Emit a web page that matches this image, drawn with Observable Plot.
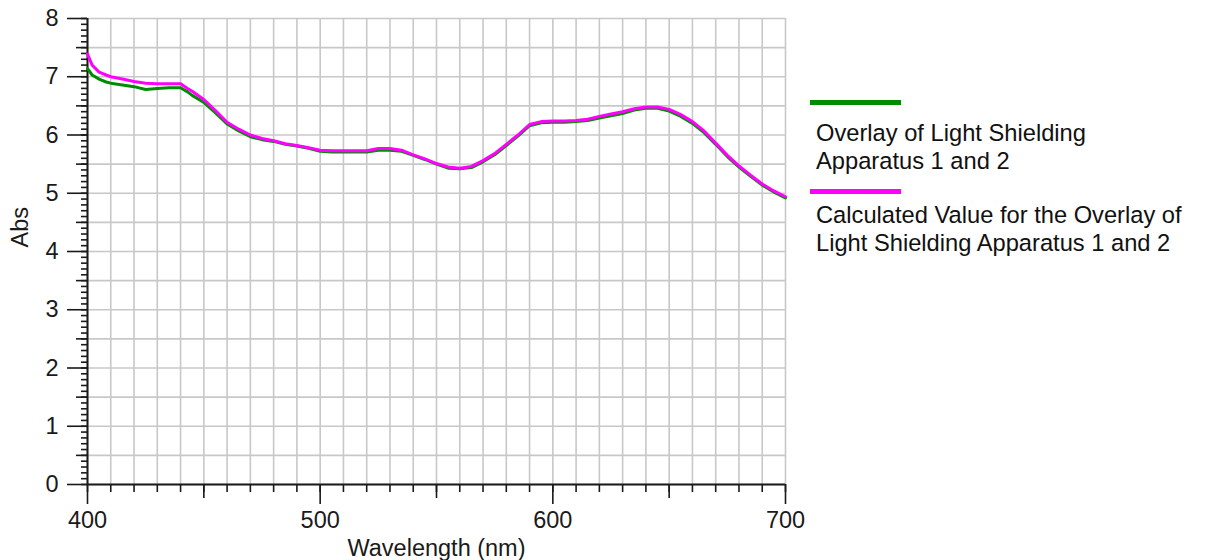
<!DOCTYPE html>
<html>
<head>
<meta charset="utf-8">
<script src="https://cdn.jsdelivr.net/npm/d3@7"></script>
<script src="https://cdn.jsdelivr.net/npm/@observablehq/plot@0.6"></script>
<style>
  html, body { margin: 0; padding: 0; background: #fff; }
  #wrap { position: relative; width: 1205px; height: 560px; font-family: "Liberation Sans", Arial, sans-serif; color: #111; }
  #wrap svg { position: absolute; left: 0; top: 0; }
  #wrap svg text { font-size: 23.5px !important; font-family: "Liberation Sans", Arial, sans-serif !important; }
  .lg-line { position: absolute; left: 810px; width: 91px; height: 5px; }
  .lg-text { position: absolute; left: 816px; font-size: 23.7px; line-height: 28px; white-space: nowrap; }
</style>
</head>
<body>
<div id="wrap"></div>
<script>
// Wavelength (nm)
const wavelengths = [400,402,405,408,410,415,420,425,430,435,440,443,445,450,455,460,465,470,475,480,485,490,495,500,505,510,515,520,525,530,535,540,545,550,555,560,565,570,575,580,585,590,595,600,605,610,615,620,625,630,635,640,645,650,655,660,665,670,675,680,685,690,695,700];
// Overlay of Light Shielding Apparatus 1 and 2 (measured, green)
const measured = [7.14,7.03,6.96,6.91,6.89,6.86,6.83,6.78,6.80,6.81,6.81,6.74,6.68,6.56,6.38,6.19,6.07,5.97,5.92,5.89,5.84,5.81,5.77,5.72,5.71,5.71,5.71,5.71,5.74,5.74,5.72,5.65,5.58,5.50,5.43,5.42,5.44,5.54,5.66,5.82,5.98,6.16,6.21,6.22,6.22,6.23,6.25,6.29,6.33,6.37,6.43,6.46,6.46,6.41,6.32,6.20,6.04,5.84,5.63,5.45,5.29,5.14,5.02,4.92];
// Calculated value for the overlay (magenta)
const calculated = [7.39,7.20,7.08,7.03,7.00,6.96,6.92,6.89,6.88,6.88,6.88,6.80,6.75,6.61,6.42,6.22,6.10,6.00,5.94,5.90,5.85,5.82,5.78,5.74,5.73,5.73,5.73,5.73,5.77,5.77,5.74,5.66,5.59,5.51,5.45,5.43,5.46,5.56,5.68,5.84,6.00,6.18,6.23,6.24,6.24,6.25,6.27,6.32,6.36,6.40,6.45,6.48,6.48,6.44,6.35,6.23,6.07,5.86,5.65,5.47,5.31,5.16,5.04,4.94];

const seriesNames = ["Overlay of Light Shielding Apparatus 1 and 2", "Calculated Value for the Overlay of Light Shielding Apparatus 1 and 2"];
const seriesColors = ["#008c00", "#ff00ff"];

// Ticks
const xMajor = [400, 500, 600, 700];
const xHalf = [450, 550, 650];
const xMinor = d3.range(400, 701, 10);
const yMajor = [0, 1, 2, 3, 4, 5, 6, 7, 8];
const yHalf = [0.5, 1.5, 2.5, 3.5, 4.5, 5.5, 6.5, 7.5];
const yMinor = d3.range(0, 81, 1).map(d => d / 10);
const xGrid = d3.range(400, 701, 10);
const yGrid = d3.range(0, 17, 1).map(d => d / 2);

const rowsMeasured = wavelengths.map((w, i) => ({w, v: measured[i]}));
const rowsCalc = wavelengths.map((w, i) => ({w, v: calculated[i]}));

const FONT = 23.5;
const axisColor = "#1a1a1a";
const noText = () => "";

const chart = Plot.plot({
  width: 1205,
  height: 560,
  marginLeft: 87,
  marginRight: 420,
  marginTop: 18,
  marginBottom: 76,
  style: {fontFamily: "'Liberation Sans', Arial, sans-serif", fontSize: FONT + "px", color: axisColor, background: "#fff"},
  x: {domain: [400, 700], label: null},
  y: {domain: [0, 8], label: null},
  marks: [
    Plot.gridX(xGrid, {stroke: "#c8c8c8", strokeOpacity: 1, strokeWidth: 1.6}),
    Plot.gridY(yGrid, {stroke: "#c8c8c8", strokeOpacity: 1, strokeWidth: 1.6}),
    Plot.axisX(xMinor, {tickSize: 8, tickFormat: noText, strokeWidth: 1.6, label: null}),
    Plot.axisX(xHalf, {tickSize: 14, tickFormat: noText, strokeWidth: 1.6, label: null}),
    Plot.axisX(xMajor, {tickSize: 20, tickPadding: 7, tickFormat: d => String(d), fontSize: FONT, strokeWidth: 1.6, label: null}),
    Plot.axisY(yMinor, {tickSize: 6, tickFormat: noText, strokeWidth: 1.6, label: null}),
    Plot.axisY(yHalf, {tickSize: 11, tickFormat: noText, strokeWidth: 1.6, label: null}),
    Plot.axisY(yMajor, {tickSize: 20, tickPadding: 9, tickFormat: d => String(d), fontSize: FONT, strokeWidth: 1.6, label: null}),
    Plot.ruleX([400], {stroke: axisColor, strokeWidth: 2}),
    Plot.ruleY([0], {stroke: axisColor, strokeWidth: 2}),
    Plot.line(rowsMeasured, {x: "w", y: "v", stroke: seriesColors[0], strokeWidth: 3}),
    Plot.line(rowsCalc, {x: "w", y: "v", stroke: seriesColors[1], strokeWidth: 3}),
    Plot.text(["Abs"], {frameAnchor: "left", rotate: -90, dx: -67, dy: -4, fontSize: FONT, lineAnchor: "middle", fill: axisColor}),
    Plot.text(["Wavelength (nm)"], {frameAnchor: "bottom", dy: 64, fontSize: FONT, lineAnchor: "middle", fill: axisColor})
  ]
});

const wrap = document.getElementById("wrap");
wrap.appendChild(chart);

// Legend (right side)
const legendLayout = [
  {lineTop: 100, textTop: 119, lines: ["Overlay of Light Shielding", "Apparatus 1 and 2"]},
  {lineTop: 189, textTop: 201, lines: ["Calculated Value for the Overlay of", "Light Shielding Apparatus 1 and 2"]}
];
legendLayout.forEach((item, i) => {
  const ln = document.createElement("div");
  ln.className = "lg-line";
  ln.style.top = item.lineTop + "px";
  ln.style.background = seriesColors[i];
  wrap.appendChild(ln);
  const tx = document.createElement("div");
  tx.className = "lg-text";
  tx.style.top = item.textTop + "px";
  tx.innerHTML = item.lines.join("<br>");
  wrap.appendChild(tx);
});
</script>
</body>
</html>
